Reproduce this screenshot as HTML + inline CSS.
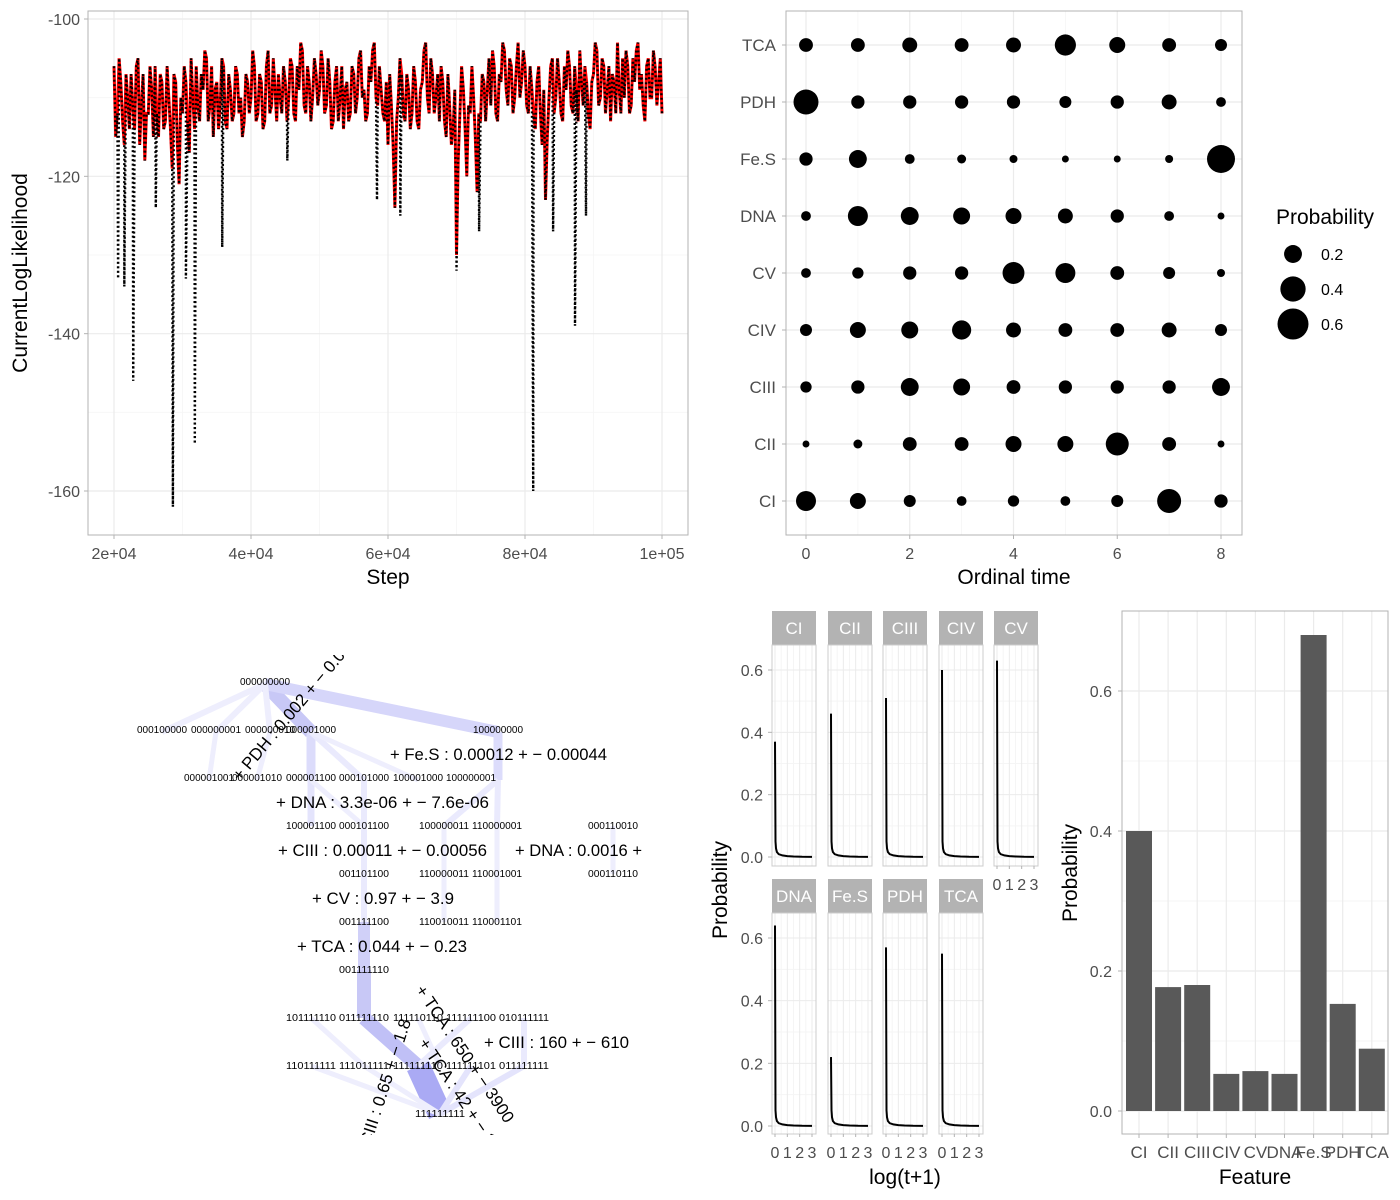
<!DOCTYPE html>
<html><head><meta charset="utf-8"><style>
html,body{margin:0;padding:0;background:#fff;}
svg{display:block;font-family:"Liberation Sans",sans-serif;}
</style></head><body>
<svg id="s" width="1400" height="1200" viewBox="0 0 1400 1200" xmlns="http://www.w3.org/2000/svg">
<g id="g1"></g>
<g id="g2"></g>
<g id="g3"></g>
<g id="g4"></g>
<g id="g5"></g>
</svg>
<script>
// ---------- data: trace ----------
const traceStart = 20000, traceStep = 500;
const redVals = [
-106,-112,-108,-116,-110,-107,-114,-105,-111,-118,
-112,-109,-106,-115,-108,-113,-110,-119,-108,-121,
-112,-108,-117,-110,-106,-113,-109,-105,-111,-115,
-108,-111,-106,-114,-109,-112,-107,-110,-113,-108,
-110,-106,-112,-108,-113,-104,-111,-109,-107,-112,
-108,-110,-106,-113,-109,-104,-112,-108,-110,-107,
-109,-106,-111,-108,-113,-106,-110,-114,-108,-112,
-107,-110,-104,-109,-112,-108,-103,-111,-109,-113,
-116,-111,-124,-110,-107,-113,-109,-112,-108,-114,
-108,-103,-112,-107,-110,-113,-108,-115,-111,-114,
-130,-112,-109,-120,-112,-110,-122,-113,-108,-109,
-111,-106,-113,-108,-104,-111,-106,-110,-103,-108,
-106,-112,-109,-114,-106,-116,-123,-110,-105,-110,
-108,-113,-109,-106,-112,-109,-104,-111,-108,-114,
-107,-104,-110,-106,-109,-113,-108,-103,-112,-110,
-106,-111,-108,-103,-107,-113,-105,-110,-106,-108,-112];
// values half-way between consecutive redVals steps
const redMid = [
-115,-105,-113,-107,-114,-111,-106,-116,-107,-112,
-106,-115,-112,-107,-114,-106,-114,-107,-116,-110,
-106,-113,-105,-114,-111,-107,-104,-113,-106,-109,
-114,-105,-113,-107,-113,-106,-112,-115,-107,-112,
-104,-113,-107,-114,-106,-112,-105,-113,-110,-106,
-113,-105,-112,-106,-103,-111,-106,-113,-105,-111,
-104,-112,-105,-114,-108,-113,-106,-109,-113,-106,
-112,-105,-110,-113,-106,-104,-110,-106,-112,-108,
-107,-116,-113,-105,-112,-107,-114,-106,-113,-109,
-104,-110,-105,-112,-107,-106,-113,-107,-116,-109,
-118,-106,-114,-111,-106,-115,-112,-107,-113,-105,
-104,-112,-107,-103,-109,-105,-112,-106,-110,-104,
-111,-106,-112,-108,-112,-109,-115,-106,-112,-105,
-112,-106,-104,-111,-106,-113,-108,-106,-112,-108,
-103,-111,-105,-112,-106,-107,-112,-109,-105,-104,
-112,-105,-104,-109,-111,-106,-110,-104,-111,-105];
const dipSteps = [20600,21500,22800,26100,28600,30500,31800,35800,45300,58400,61800,70000,73300,81200,84100,87300,88900];
const dipVals  = [-133,-134,-146,-124,-162,-133,-154,-129,-118,-123,-125,-132,-127,-160,-127,-139,-125];
const traceXTicks = [20000,40000,60000,80000,100000];
const traceXLabels = ["2e+04","4e+04","6e+04","8e+04","1e+05"];
const traceYTicks = [-100,-120,-140,-160];
// ---------- data: dot plot ----------
const dotRows = ["TCA","PDH","Fe.S","DNA","CV","CIV","CIII","CII","CI"];
const dotTimes = [0,1,2,3,4,5,6,7,8];
const pTCA  = [0.12,0.12,0.14,0.12,0.14,0.28,0.16,0.12,0.09];
const pPDH  = [0.39,0.11,0.11,0.11,0.11,0.09,0.11,0.14,0.06];
const pFeS  = [0.11,0.20,0.06,0.05,0.04,0.03,0.03,0.04,0.49];
const pDNA  = [0.06,0.25,0.20,0.18,0.16,0.14,0.11,0.06,0.03];
const pCV   = [0.06,0.08,0.11,0.11,0.30,0.25,0.12,0.09,0.04];
const pCIV  = [0.09,0.16,0.18,0.23,0.14,0.12,0.12,0.14,0.09];
const pCIII = [0.08,0.11,0.20,0.18,0.12,0.11,0.11,0.11,0.20];
const pCII  = [0.03,0.05,0.12,0.12,0.16,0.16,0.33,0.12,0.03];
const pCI   = [0.25,0.16,0.09,0.06,0.08,0.06,0.09,0.36,0.11];
const dotVals = [pTCA,pPDH,pFeS,pDNA,pCV,pCIV,pCIII,pCII,pCI];
const legendVals = [0.2,0.4,0.6];
// ---------- data: facets ----------
const facetNames = ["CI","CII","CIII","CIV","CV","DNA","Fe.S","PDH","TCA"];
const facetPeaks = [0.37,0.46,0.51,0.60,0.63,0.64,0.22,0.57,0.55];
const tailX = [0.04,0.08,0.15,0.3,0.6,1.0,1.5,2.2,3.0];
const tailY = [0.05,0.028,0.016,0.009,0.005,0.003,0.0015,0.0007,0.0003];
const facetYTicks = [0,0.2,0.4,0.6];
// ---------- data: bars ----------
const barCats = ["CI","CII","CIII","CIV","CV","DNA","Fe.S","PDH","TCA"];
const barVals = [0.40,0.177,0.18,0.053,0.057,0.053,0.68,0.153,0.089];
const barYTicks = [0,0.2,0.4,0.6];

const NS="http://www.w3.org/2000/svg";
function el(parent,tag,attrs,text){const e=document.createElementNS(NS,tag);for(const k in attrs)e.setAttribute(k,attrs[k]);if(text!==undefined)e.textContent=text;parent.appendChild(e);return e;}
const TICK="#4d4d4d", GRID="#ebebeb", MINOR="#f5f5f5", BORDER="#b3b3b3";

// ===== Trace plot =====
(function(){
const g=document.getElementById('g1');
const X=v=>114+(v-20000)*548/80000;
const y=v=>19+(-100-v)*472/60;
const L=88,R=688,T=11,B=535;
for(let i=0;i<traceXTicks.length-1;i++){const m=(traceXTicks[i]+traceXTicks[i+1])/2;el(g,'line',{x1:X(m),x2:X(m),y1:T,y2:B,stroke:MINOR,'stroke-width':0.8});}
[-110,-130,-150].forEach(v=>el(g,'line',{x1:L,x2:R,y1:y(v),y2:y(v),stroke:MINOR,'stroke-width':0.8}));
traceXTicks.forEach((v,i)=>{el(g,'line',{x1:X(v),x2:X(v),y1:T,y2:B,stroke:GRID,'stroke-width':1.2});
 el(g,'line',{x1:X(v),x2:X(v),y1:B,y2:B+4,stroke:BORDER});
 const t=el(g,'text',{x:X(v),y:B+24,'text-anchor':'middle','font-size':16,fill:TICK},traceXLabels[i]);
 
 });
traceYTicks.forEach(v=>{el(g,'line',{x1:L,x2:R,y1:y(v),y2:y(v),stroke:GRID,'stroke-width':1.2});
 el(g,'line',{x1:L-4,x2:L,y1:y(v),y2:y(v),stroke:BORDER});
 const t=el(g,'text',{x:L-8,y:y(v)+6,'text-anchor':'end','font-size':16,fill:TICK},String(v));
 
 });
el(g,'rect',{x:L,y:T,width:R-L,height:B-T,fill:'none',stroke:BORDER,'stroke-width':1});
// combine main and midpoint values
const pts=[];
redVals.forEach((v,i)=>{pts.push([traceStart+i*traceStep,v]); if(i<redMid.length) pts.push([traceStart+i*traceStep+traceStep/2,redMid[i]]);});
let d='';pts.forEach((p,i)=>{d+=(i?'L':'M')+X(p[0]).toFixed(1)+','+y(p[1]).toFixed(1);});
const red=el(g,'path',{d:d,fill:'none',stroke:'#ff0000','stroke-width':3});


const bpts=pts.slice();
dipSteps.forEach((s,i)=>bpts.push([s,dipVals[i]]));
bpts.sort((a,b)=>a[0]-b[0]);
let d2='';bpts.forEach((p,i)=>{d2+=(i?'L':'M')+X(p[0]).toFixed(1)+','+y(p[1]).toFixed(1);});
const blk=el(g,'path',{d:d2,fill:'none',stroke:'#000','stroke-width':2.4,'stroke-dasharray':'2 2.5'});


const xt=el(g,'text',{x:388,y:584,'text-anchor':'middle','font-size':21,fill:'#000'},'Step');


const yt=el(g,'text',{x:0,y:0,transform:'translate(27,273) rotate(-90)','text-anchor':'middle','font-size':21,fill:'#000'},'CurrentLogLikelihood');


})();

// ===== Dot plot =====
(function(){
const g=document.getElementById('g2');
const L=786,R=1242,T=11,B=535;
const X=v=>806+v*(1221-806)/8, Y=i=>45+i*57;
const rad=p=>20*Math.sqrt(p);
[1,3,5,7].forEach(v=>el(g,'line',{x1:X(v),x2:X(v),y1:T,y2:B,stroke:MINOR,'stroke-width':0.8}));
[0,2,4,6,8].forEach(v=>{el(g,'line',{x1:X(v),x2:X(v),y1:T,y2:B,stroke:GRID,'stroke-width':1.2});
 el(g,'line',{x1:X(v),x2:X(v),y1:B,y2:B+4,stroke:BORDER});
 const t=el(g,'text',{x:X(v),y:B+24,'text-anchor':'middle','font-size':16,fill:TICK},String(v));
 
 });
dotRows.forEach((r,i)=>{el(g,'line',{x1:L,x2:R,y1:Y(i),y2:Y(i),stroke:GRID,'stroke-width':1.2});
 el(g,'line',{x1:L-4,x2:L,y1:Y(i),y2:Y(i),stroke:BORDER});
 const t=el(g,'text',{x:L-10,y:Y(i)+6,'text-anchor':'end','font-size':17,fill:TICK},r);
 
 });
el(g,'rect',{x:L,y:T,width:R-L,height:B-T,fill:'none',stroke:BORDER});
dotVals.forEach((row,i)=>row.forEach((p,j)=>{const c=el(g,'circle',{cx:X(dotTimes[j]),cy:Y(i),r:rad(p),fill:'#000'});
 
 }));
const xt=el(g,'text',{x:1014,y:584,'text-anchor':'middle','font-size':21,fill:'#000'},'Ordinal time');


const lt=el(g,'text',{x:1276,y:224,'font-size':21,fill:'#000'},'Probability');


legendVals.forEach((v,i)=>{const c=el(g,'circle',{cx:1293,cy:254+i*35,r:rad(v),fill:'#000'});
 
 
 const t=el(g,'text',{x:1321,y:260+i*35,'font-size':16,fill:'#000'},v.toFixed(1));
 
 });
})();

// ===== Network graph =====
(function(){
const g=document.getElementById('g3');
const defs=el(g,'defs',{});const cp=el(defs,'clipPath',{id:'netclip'});el(cp,'rect',{x:100,y:655,width:545,height:480});
const gg=el(g,'g',{'clip-path':'url(#netclip)'});
const edges=[
[265,684,311,732,14,'#c8c8f6'],[265,684,498,732,12,'#d6d6fa'],
[265,684,162,732,6,'#eeeefd'],[265,684,216,732,6,'#eeeefd'],[265,684,270,732,6,'#eeeefd'],
[216,732,209,780,5,'#eeeefd'],[270,732,257,780,5,'#eeeefd'],[311,732,311,780,9,'#dcdcfb'],
[311,732,364,780,6,'#eaeafd'],[311,732,418,780,5,'#eeeefd'],[498,732,498,780,9,'#dcdcfb'],
[311,780,311,826,7,'#e4e4fc'],[311,780,364,826,5,'#eeeefd'],[364,780,364,826,6,'#eaeafd'],
[498,780,444,826,6,'#eaeafd'],[498,780,497,826,6,'#eaeafd'],
[364,826,364,874,6,'#eaeafd'],[444,826,444,874,5,'#eeeefd'],[497,826,497,874,5,'#eeeefd'],[613,826,613,874,5,'#eeeefd'],
[364,874,364,922,6,'#eaeafd'],[444,874,444,922,5,'#eeeefd'],[497,874,497,922,5,'#eeeefd'],
[364,922,364,970,12,'#d0d0f8'],[364,970,364,1018,14,'#c8c8f6'],
[364,1018,418,1066,14,'#c0c0f6'],[418,1066,440,1114,24,'#aaaaf4'],
[311,1018,364,1066,5,'#eeeefd'],[418,1018,440,1066,5,'#eeeefd'],[471,1018,418,1066,6,'#eaeafd'],[524,1018,524,1066,6,'#eaeafd'],
[311,1066,440,1114,5,'#eeeefd'],[364,1066,440,1114,5,'#eeeefd'],[471,1066,440,1114,6,'#e4e4fc'],[524,1066,440,1114,6,'#e4e4fc']];
edges.forEach(e=>{const l=el(gg,'line',{x1:e[0],y1:e[1],x2:e[2],y2:e[3],stroke:e[5],'stroke-width':e[4]});
 
 });
const nodes=[["000000000",265,685],["000100000",162,733],["000000001",216,733],["000000010",270,733],["000001000",311,733],["100000000",498,733],
["000001001",209,781],["000001010",257,781],["000001100",311,781],["000101000",364,781],["100001000",418,781],["100000001",471,781],
["100001100",311,829],["000101100",364,829],["100000011",444,829],["110000001",497,829],["000110010",613,829],
["001101100",364,877],["110000011",444,877],["110001001",497,877],["000110110",613,877],
["001111100",364,925],["110010011",444,925],["110001101",497,925],["001111110",364,973],
["101111110",311,1021],["011111110",364,1021],["111110110",418,1021],["111111100",471,1021],["010111111",524,1021],
["110111111",311,1069],["111011111",364,1069],["111111110",418,1069],["111111101",471,1069],["011111111",524,1069],["111111111",440,1117]];
nodes.forEach(n=>{const t=el(gg,'text',{x:n[1],y:n[2],'text-anchor':'middle','font-size':10.5,textLength:50,lengthAdjust:'spacingAndGlyphs',fill:'#000'},n[0]);
 
 });
const labs=[["+ Fe.S : 0.00012 + − 0.00044",390,760,217],["+ DNA : 3.3e-06 + − 7.6e-06",276,808,213],["+ CIII : 0.00011 + − 0.00056",278,856,209],
["+ DNA : 0.0016 +",515,856,127],["+ CV : 0.97 + − 3.9",312,904,142],["+ TCA : 0.044 + − 0.23",297,952,170],["+ CIII : 160 + − 610",484,1048,145]];
labs.forEach(a=>{const t=el(gg,'text',{x:a[1],y:a[2],'font-size':17,textLength:a[3],lengthAdjust:'spacingAndGlyphs',fill:'#000'},a[0]);
 
 });
const rot=[["+ PDH : 0.002 + − 0.002",240,782,-50],["+ TCA : 650 + − 3900",415,990,56],["+ TCA : 42 + − 16",418,1043,56],["+ CIII : 0.65 + − 1.8",366,1160,-72]];
rot.forEach(a=>{const t=el(gg,'text',{x:0,y:0,transform:`translate(${a[1]},${a[2]}) rotate(${a[3]})`,'font-size':17,fill:'#000'},a[0]);
 
 });
})();

// ===== Facets =====
(function(){
const g=document.getElementById('g4');
const colX=[772,828,883,939,994], W=44;
const rows=[{sy:611,py:645,pb:866,y0:857,y6:670},{sy:879,py:913,pb:1134,y0:1126,y6:938}];
facetNames.forEach((nm,k)=>{const r=rows[k<5?0:1], c=k%5, x0=colX[c];
 const Xs=v=>x0+3+v*37/3, Ys=v=>r.y0-v*(r.y0-r.y6)/0.6;
 const s=el(g,'rect',{x:x0,y:r.sy,width:W,height:34,fill:'#b3b3b3'});
 
 
 const st=el(g,'text',{x:x0+W/2,y:r.sy+23,'text-anchor':'middle','font-size':17,fill:'#fff'},nm);
 
 
 [0.5,1.5,2.5].forEach(v=>el(g,'line',{x1:Xs(v),x2:Xs(v),y1:r.py,y2:r.pb,stroke:MINOR}));
 [0.1,0.3,0.5].forEach(v=>el(g,'line',{x1:x0,x2:x0+W,y1:Ys(v),y2:Ys(v),stroke:MINOR}));
 [0,1,2,3].forEach(v=>el(g,'line',{x1:Xs(v),x2:Xs(v),y1:r.py,y2:r.pb,stroke:GRID}));
 facetYTicks.forEach(v=>el(g,'line',{x1:x0,x2:x0+W,y1:Ys(v),y2:Ys(v),stroke:GRID}));
 el(g,'rect',{x:x0,y:r.py,width:W,height:r.pb-r.py,fill:'none',stroke:'#cccccc'});
 let d='M'+Xs(0)+','+Ys(facetPeaks[k]);
 tailX.forEach((tx,i)=>{d+='L'+Xs(tx).toFixed(1)+','+Ys(tailY[i]).toFixed(1);});
 const p=el(g,'path',{d:d,fill:'none',stroke:'#000','stroke-width':2});
 
 
 if(k>=4){const ly=k===4?886:1154;
  [0,1,2,3].forEach(v=>{el(g,'line',{x1:Xs(v),x2:Xs(v),y1:r.pb,y2:r.pb+3,stroke:BORDER});
   const t=el(g,'text',{x:Xs(v),y:ly+4,'text-anchor':'middle','font-size':16,fill:TICK},String(v));
   
   });}
 if(c===0){facetYTicks.forEach(v=>{el(g,'line',{x1:x0-4,x2:x0,y1:Ys(v),y2:Ys(v),stroke:BORDER});
  const t=el(g,'text',{x:x0-9,y:Ys(v)+6,'text-anchor':'end','font-size':16,fill:TICK},v.toFixed(1));
  
  });}
});
const xt=el(g,'text',{x:905,y:1184,'text-anchor':'middle','font-size':21,fill:'#000'},'log(t+1)');


const yt=el(g,'text',{x:0,y:0,transform:'translate(727,890) rotate(-90)','text-anchor':'middle','font-size':21,fill:'#000'},'Probability');


})();

// ===== Bar chart =====
(function(){
const g=document.getElementById('g5');
const L=1122,R=1388,T=611,B=1134;
const X=i=>1139+i*29.1, Y=v=>1111-v*700;
[0.1,0.3,0.5].forEach(v=>el(g,'line',{x1:L,x2:R,y1:Y(v),y2:Y(v),stroke:MINOR}));
barYTicks.forEach(v=>{el(g,'line',{x1:L,x2:R,y1:Y(v),y2:Y(v),stroke:GRID,'stroke-width':1.2});
 el(g,'line',{x1:L-4,x2:L,y1:Y(v),y2:Y(v),stroke:BORDER});
 const t=el(g,'text',{x:L-10,y:Y(v)+6,'text-anchor':'end','font-size':16,fill:TICK},v.toFixed(1));
 
 });
barCats.forEach((c,i)=>{el(g,'line',{x1:X(i),x2:X(i),y1:T,y2:B,stroke:GRID,'stroke-width':1.2});
 el(g,'line',{x1:X(i),x2:X(i),y1:B,y2:B+4,stroke:BORDER});
 const t=el(g,'text',{x:X(i),y:B+24,'text-anchor':'middle','font-size':17,fill:TICK},c);
 
 });
el(g,'rect',{x:L,y:T,width:R-L,height:B-T,fill:'none',stroke:BORDER});
barVals.forEach((v,i)=>{const b=el(g,'rect',{x:X(i)-13,y:Y(v),width:26,height:Y(0)-Y(v),fill:'#595959'});
 
 });
const xt=el(g,'text',{x:1255,y:1184,'text-anchor':'middle','font-size':21,fill:'#000'},'Feature');


const yt=el(g,'text',{x:0,y:0,transform:'translate(1077,873) rotate(-90)','text-anchor':'middle','font-size':21,fill:'#000'},'Probability');


})();
</script>
</body></html>
